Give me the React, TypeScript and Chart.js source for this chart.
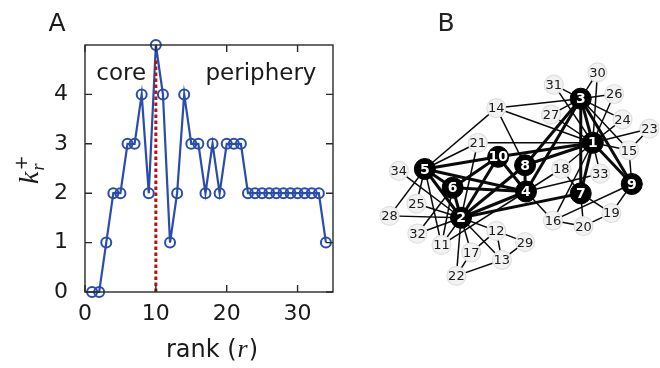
import React, { useEffect, useRef } from "react";
import { Chart, registerables } from "chart.js";

Chart.register(...registerables);

// ---------- Panel A data ----------
const ranks = [
  1, 2, 3, 4, 5, 6, 7, 8, 9, 10, 11, 12, 13, 14, 15, 16, 17, 18, 19, 20, 21, 22, 23, 24, 25, 26, 27, 28, 29, 30, 31, 32, 33, 34,
];
const kPlus = [
  0, 0, 1, 2, 2, 3, 3, 4, 2, 5, 4, 1, 2, 4, 3, 3, 2, 3, 2, 3, 3, 3, 2, 2, 2, 2, 2, 2, 2, 2, 2, 2, 2, 1,
];
const xTickValues = [0, 10, 20, 30];
const yTickValues = [0, 1, 2, 3, 4];
const coreBoundary = 10;
const boundaryTop = 4.72;

// ---------- Panel B data (node layout) ----------
const nodeIds = [
  1, 2, 3, 4, 5, 6, 7, 8, 9, 10, 11, 12, 13, 14, 15, 16, 17, 18, 19, 20, 21, 22, 23, 24, 25, 26, 27, 28, 29, 30, 31, 32, 33, 34,
];
const nodeX = [
  260, 118, 247, 188, 79, 109, 247, 187, 302, 158, 97, 156, 162, 156, 299, 217, 129, 226, 280, 250, 136, 113, 321, 292, 70, 283,
  215, 41, 187, 265, 218, 71, 268, 51,
];
const nodeY = [
  140, 220, 93, 192, 168, 188, 194, 164, 184, 155, 249, 234, 265, 103, 148, 223, 257, 168, 215, 229, 140, 282, 125, 115, 205, 88,
  110, 218, 246, 65, 78, 237, 173, 170,
];
const coreCount = 10;
const edges: [number, number][] = [
  [2, 5], [2, 4], [2, 6], [2, 17], [2, 13], [2, 12], [2, 11], [2, 8], [2, 22], [2, 34], [2, 32], [2, 10], [2, 25], [2, 21], [2, 28], [2, 7],
  [5, 4], [5, 6], [5, 11], [5, 10], [5, 25], [5, 21], [5, 28], [5, 14],
  [4, 6], [4, 11], [4, 8], [4, 33], [4, 10], [4, 16], [4, 18], [4, 3],
  [6, 11], [6, 32], [6, 10],
  [17, 12], [17, 22], [13, 12], [13, 22], [13, 29], [12, 29],
  [8, 14], [8, 3], [8, 1], [33, 1], [10, 1],
  [24, 3], [24, 1], [26, 3], [26, 1], [27, 3], [27, 1], [21, 1], [30, 3], [30, 1], [31, 3], [31, 1],
  [9, 19], [9, 16], [9, 15], [9, 3], [9, 1],
  [20, 19], [20, 16], [20, 7], [19, 7], [23, 15], [23, 1], [16, 1], [18, 7], [18, 1],
  [15, 3], [15, 1], [14, 3], [14, 1], [7, 3], [7, 1], [3, 1],
];

const BLUE = "#2a4dab";
const RED = "#b3140e";
const SANS = "'DejaVu Sans', sans-serif";
const SERIF = "'Liberation Serif', serif";

const panelAPlugin = {
  id: "panelA",
  afterDraw(chart: any) {
    const { ctx, chartArea } = chart;
    const { left, right, top, bottom } = chartArea;
    const xs = chart.scales.x;
    const ys = chart.scales.y;
    ctx.save();
    ctx.strokeStyle = "#2a2a2a";
    ctx.lineWidth = 1.4;
    ctx.strokeRect(left, top, right - left, bottom - top);
    const tl = 7;
    ctx.beginPath();
    for (const v of xTickValues) {
      const px = xs.getPixelForValue(v);
      ctx.moveTo(px, bottom);
      ctx.lineTo(px, bottom - tl);
      ctx.moveTo(px, top);
      ctx.lineTo(px, top + tl);
    }
    for (const v of yTickValues) {
      const py = ys.getPixelForValue(v);
      ctx.moveTo(left, py);
      ctx.lineTo(left + tl, py);
      ctx.moveTo(right, py);
      ctx.lineTo(right - tl, py);
    }
    ctx.stroke();

    ctx.fillStyle = "#1a1a1a";
    ctx.textBaseline = "alphabetic";
    ctx.font = `23px ${SANS}`;
    ctx.textAlign = "left";
    ctx.fillText("core", xs.getPixelForValue(1.6), ys.getPixelForValue(4.29));
    ctx.fillText("periphery", xs.getPixelForValue(17.0), ys.getPixelForValue(4.29));

    // panel letter
    ctx.font = `25px ${SANS}`;
    ctx.textAlign = "center";
    ctx.fillText("A", 57, 31);

    // x title: rank (r)
    const p1 = "rank (";
    const p2 = "r";
    const p3 = ")";
    ctx.font = `24px ${SANS}`;
    const w1 = ctx.measureText(p1).width;
    const w3 = ctx.measureText(p3).width;
    ctx.font = `italic 26px ${SERIF}`;
    const w2 = ctx.measureText(p2).width + 2;
    const total = w1 + w2 + w3;
    const x0 = (left + right) / 2 - total / 2 + 3;
    const base = 357;
    ctx.textAlign = "left";
    ctx.font = `24px ${SANS}`;
    ctx.fillText(p1, x0, base);
    ctx.font = `italic 26px ${SERIF}`;
    ctx.fillText(p2, x0 + w1 + 1, base);
    ctx.font = `24px ${SANS}`;
    ctx.fillText(p3, x0 + w1 + w2, base);

    // y title: k_r^+
    ctx.save();
    ctx.translate(38, 168);
    ctx.rotate(-Math.PI / 2);
    ctx.textAlign = "left";
    ctx.font = `italic 28px ${SERIF}`;
    const kw = ctx.measureText("k").width;
    const startX = -16;
    ctx.fillText("k", startX, 0);
    ctx.font = `italic 18px ${SERIF}`;
    ctx.fillText("r", startX + kw + 1, 6);
    ctx.font = `18px ${SANS}`;
    ctx.fillText("+", startX + kw + 1, -11);
    ctx.restore();

    ctx.restore();
  },
};

const panelBPlugin = {
  id: "panelB",
  afterDatasetsDraw(chart: any) {
    const { ctx } = chart;
    ctx.save();
    ctx.textAlign = "center";
    ctx.textBaseline = "middle";
    for (let d = 0; d < 2; d++) {
      const meta = chart.getDatasetMeta(d);
      const ds = chart.data.datasets[d] as any;
      meta.data.forEach((el: any, i: number) => {
        const id = ds.ids[i];
        if (d === 0) {
          ctx.fillStyle = "#fff";
          ctx.font = `bold 14px ${SANS}`;
        } else {
          ctx.fillStyle = "#1a1a1a";
          ctx.font = `13px ${SANS}`;
        }
        ctx.fillText(String(id), el.x, el.y + 1);
      });
    }
    ctx.fillStyle = "#222";
    ctx.font = `25px ${SANS}`;
    ctx.textBaseline = "alphabetic";
    ctx.fillText("B", 106, 31);
    ctx.restore();
  },
};

const App = () => {
  const refA = useRef<HTMLCanvasElement>(null);
  const refB = useRef<HTMLCanvasElement>(null);

  useEffect(() => {
    document.body.style.margin = "0";
    const tickFont = { family: SANS, size: 22 };

    const chartA = new Chart(refA.current as HTMLCanvasElement, {
      type: "line",
      data: {
        datasets: [
          {
            label: "boundary",
            data: [
              { x: coreBoundary, y: 0 },
              { x: coreBoundary, y: boundaryTop },
            ],
            borderColor: RED,
            borderWidth: 3,
            borderDash: [3.5, 2.5],
            pointRadius: 0,
            order: 0,
          } as any,
          {
            label: "k+",
            data: ranks.map((r, i) => ({ x: r, y: kPlus[i] })),
            borderColor: BLUE,
            borderWidth: 2.2,
            pointRadius: 5,
            pointBorderWidth: 2,
            pointBorderColor: BLUE,
            pointBackgroundColor: "rgba(255,255,255,0)",
            clip: false,
            order: 1,
          } as any,
        ],
      },
      options: {
        animation: false,
        responsive: true,
        maintainAspectRatio: false,
        layout: { padding: { left: 0, top: 45, right: 7, bottom: 0 } },
        plugins: { legend: { display: false }, tooltip: { enabled: false } },
        scales: {
          x: {
            type: "linear",
            min: 0,
            max: 35,
            grid: { display: false },
            border: { display: false },
            ticks: { font: tickFont, color: "#1a1a1a", padding: 1, maxRotation: 0, autoSkip: false },
            afterBuildTicks: (s: any) => {
              s.ticks = xTickValues.map((v) => ({ value: v }));
            },
            afterFit: (s: any) => {
              s.height = 76;
            },
          },
          y: {
            type: "linear",
            min: 0,
            max: 5,
            grid: { display: false },
            border: { display: false },
            ticks: { font: tickFont, color: "#1a1a1a", padding: 9, autoSkip: false },
            afterBuildTicks: (s: any) => {
              s.ticks = yTickValues.map((v) => ({ value: v }));
            },
            afterFit: (s: any) => {
              s.width = 85;
            },
          },
        },
      } as any,
      plugins: [panelAPlugin],
    });

    const idx = (id: number) => nodeIds.indexOf(id);
    const pt = (id: number) => ({ x: nodeX[idx(id)], y: nodeY[idx(id)] });
    const coreIds = nodeIds.filter((id) => id <= coreCount);
    const periIds = nodeIds.filter((id) => id > coreCount);

    const chartB = new Chart(refB.current as HTMLCanvasElement, {
      type: "scatter",
      data: {
        datasets: [
          {
            label: "core",
            ids: coreIds,
            data: coreIds.map(pt),
            pointRadius: 10.5,
            pointBackgroundColor: "#000",
            pointBorderColor: "#000",
            pointBorderWidth: 1,
            clip: false,
            order: 0,
          } as any,
          {
            label: "periphery",
            ids: periIds,
            data: periIds.map(pt),
            pointRadius: 9.5,
            pointBackgroundColor: "#f2f2f2",
            pointBorderColor: "#e0e0e0",
            pointBorderWidth: 1.2,
            clip: false,
            order: 1,
          } as any,
          ...edges.map(
            ([a, b]) =>
              ({
                label: `e${a}-${b}`,
                data: [pt(a), pt(b)],
                showLine: true,
                borderColor: "#0a0a0a",
                borderWidth: a <= coreCount && b <= coreCount ? 3 : 1.5,
                pointRadius: 0,
                clip: false,
                order: 2,
              }) as any
          ),
        ],
      },
      options: {
        animation: false,
        responsive: true,
        maintainAspectRatio: false,
        layout: { padding: 0 },
        plugins: { legend: { display: false }, tooltip: { enabled: false } },
        scales: {
          x: { type: "linear", min: 0, max: 320, display: false },
          y: { type: "linear", min: 0, max: 368, reverse: true, display: false },
        },
      } as any,
      plugins: [panelBPlugin],
    });

    return () => {
      chartA.destroy();
      chartB.destroy();
    };
  }, []);

  return (
    <div style={{ position: "relative", width: 660, height: 368, background: "#fff", overflow: "hidden" }}>
      <div style={{ position: "absolute", left: 0, top: 0, width: 340, height: 368 }}>
        <canvas ref={refA} />
      </div>
      <div style={{ position: "absolute", left: 340, top: 0, width: 320, height: 368 }}>
        <canvas ref={refB} />
      </div>
    </div>
  );
};

export default App;
